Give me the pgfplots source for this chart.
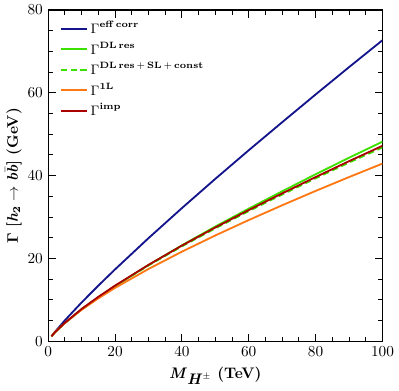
\documentclass[border=0pt]{standalone}
\usepackage{pgfplots}
\pgfplotsset{compat=1.18}
\definecolor{cblue}{RGB}{20,20,140}
\definecolor{cgreen}{RGB}{60,225,0}
\definecolor{corange}{RGB}{255,120,20}
\definecolor{cred}{RGB}{170,0,0}
\begin{document}
\begin{tikzpicture}
\begin{axis}[
  scale only axis,
  width=219pt, height=217pt,
  xmin=0, xmax=100, ymin=0, ymax=80,
  xtick={0,20,40,60,80,100},
  ytick={0,20,40,60,80},
  minor x tick num=3, minor y tick num=3,
  tick align=inside,
  tick style={black, line width=0.6pt},
  major tick length=5pt, minor tick length=3pt,
  axis line style={line width=0.8pt},
  xlabel={\textbf{\textit{M}}$_{\textbf{\textit{H}}^{\pm}}$ \textbf{(TeV)}},
  ylabel={$\mathbf{\Gamma}$ \textbf{[}$\textbf{\textit{h}}_{\mathbf{2}}\rightarrow\textbf{\textit{b}}\bar{\textbf{\textit{b}}}$\textbf{]} \textbf{(GeV)}},
  ylabel style={yshift=-3pt},
  legend style={at={(0.02,0.985)}, anchor=north west, draw=none, fill=none, font=\small},
  legend cell align=left,
]
\addplot[draw=cblue, line width=1.2pt] coordinates {(1,1.21)(2,2.23)(5,5.05)(10,9.36)(15,13.43)(20,17.35)(30,24.89)(40,32.15)(50,39.22)(60,46.13)(70,52.9)(80,59.6)(90,66.2)(100,72.7)};
\addlegendentry{$\Gamma^{\mathbf{eff\,corr}}$}
\addplot[draw=cgreen, line width=1.2pt] coordinates {(1,1.2)(2,2.11)(5,4.39)(10,7.64)(15,10.57)(20,13.31)(30,18.40)(40,23.17)(50,27.70)(60,32.03)(70,36.22)(80,40.33)(90,44.32)(100,48.2)};
\addlegendentry{$\Gamma^{\mathbf{DL\,res}}$}
\addplot[draw=cgreen, line width=1.2pt, dash pattern=on 4pt off 2.5pt] coordinates {(1,1.19)(2,2.13)(5,4.41)(10,7.77)(15,10.66)(20,13.34)(30,18.30)(40,22.92)(50,27.26)(60,31.43)(70,35.43)(80,39.34)(90,43.15)(100,46.8)};
\addlegendentry{$\Gamma^{\mathbf{DL\,res\,+\,SL\,+\,const}}$}
\addplot[draw=corange, line width=1.2pt] coordinates {(1,1.18)(2,2.12)(5,4.4)(10,7.6)(15,10.35)(20,12.89)(30,17.45)(40,21.63)(50,25.55)(60,29.27)(70,32.84)(80,36.30)(90,39.65)(100,42.9)};
\addlegendentry{$\Gamma^{\mathbf{1L}}$}
\addplot[draw=cred, line width=1.2pt] coordinates {(1,1.2)(2,2.15)(5,4.45)(10,7.8)(15,10.72)(20,13.43)(30,18.44)(40,23.10)(50,27.48)(60,31.68)(70,35.71)(80,39.65)(90,43.49)(100,47.2)};
\addlegendentry{$\Gamma^{\mathbf{imp}}$}
\end{axis}
\end{tikzpicture}
\end{document}
